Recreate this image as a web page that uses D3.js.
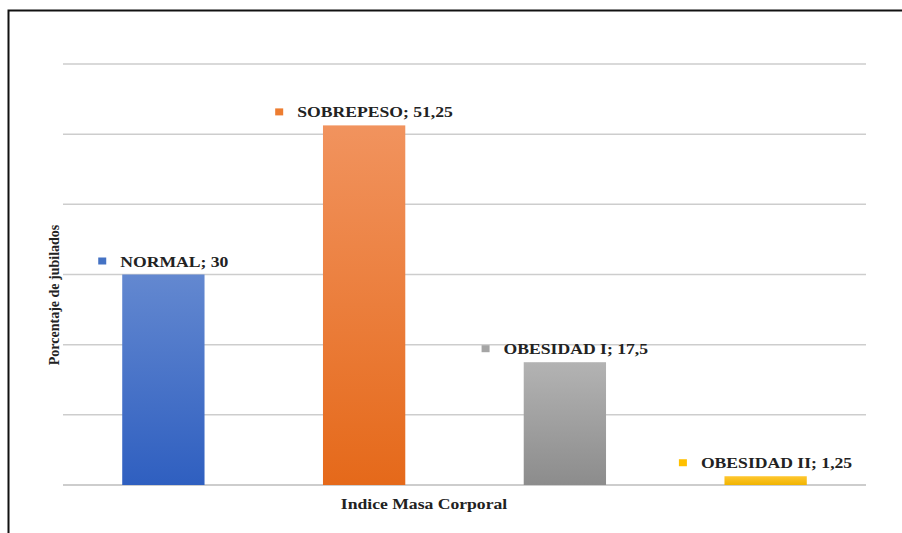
<!DOCTYPE html>
<html><head><meta charset="utf-8">
<script src="https://cdn.jsdelivr.net/npm/d3@7"></script>
<style>body{margin:0;background:#fff}svg{display:block}</style>
</head><body>
<script>
const categories = ["NORMAL", "SOBREPESO", "OBESIDAD I", "OBESIDAD II"];
const values = [30, 51.25, 17.5, 1.25];
const valueLabels = ["30", "51,25", "17,5", "1,25"];
const yTicks = [0, 10, 20, 30, 40, 50, 60];
const colorsTop = ["#6388d0", "#f1935e", "#b3b3b3", "#ffc730"];
const colorsBottom = ["#2f5fc0", "#e5691a", "#8c8c8c", "#f0b400"];
const markerColors = ["#4472c4", "#ed7d31", "#a5a5a5", "#ffc000"];

const W = 902, H = 533;
const SX = 1.26;
const svg = d3.select("body").append("svg").attr("width", W).attr("height", H);
const font = "'Liberation Serif','Times New Roman',serif";

// frame
svg.append("rect").attr("x", 8.5).attr("y", 10.5).attr("width", W).attr("height", H)
  .attr("fill", "none").attr("stroke", "#111").attr("stroke-width", 2);

const x = d3.scaleBand().domain(categories).range([63, 866]).paddingInner(0.59).paddingOuter(0.295);
const y = d3.scaleLinear().domain([0, 60]).range([485, 64]);

const defs = svg.append("defs");
categories.forEach((c, i) => {
  const g = defs.append("linearGradient").attr("id", "g" + i).attr("x1", 0).attr("y1", 0).attr("x2", 0).attr("y2", 1);
  g.append("stop").attr("offset", "0%").attr("stop-color", colorsTop[i]);
  g.append("stop").attr("offset", "100%").attr("stop-color", colorsBottom[i]);
});

// gridlines
svg.append("g").selectAll("line").data(yTicks).join("line")
  .attr("x1", 63).attr("x2", 866)
  .attr("y1", d => y(d)).attr("y2", d => y(d))
  .attr("stroke", d => d === 0 ? "#bdbdbd" : "#cdcdcd").attr("stroke-width", 1.5);

// bars
svg.append("g").selectAll("rect").data(values).join("rect")
  .attr("x", (d, i) => x(categories[i]))
  .attr("width", x.bandwidth())
  .attr("y", d => y(d))
  .attr("height", d => y(0) - y(d))
  .attr("fill", (d, i) => `url(#g${i})`);

// labels
const lg = svg.append("g").selectAll("g").data(values).join("g");
lg.each(function (d, i) {
  const g = d3.select(this);
  const t = g.append("text").attr("font-family", font).attr("font-weight", "bold")
    .attr("font-size", 14).attr("fill", "#222")
    .text(categories[i] + "; " + valueLabels[i]);
  const tw = t.node().getComputedTextLength() * SX;
  const total = 8 + 14 + tw;
  const cx = x(categories[i]) + x.bandwidth() / 2;
  const left = cx - total / 2;
  const base = y(d) - 8;
  g.append("rect").attr("x", left).attr("y", base - 9).attr("width", 8).attr("height", 7)
    .attr("fill", markerColors[i]);
  t.attr("transform", `translate(${left + 22},${base}) scale(${SX},1)`);
});

// axis titles
svg.append("text").attr("transform", `translate(424,509) scale(${SX},1)`).attr("text-anchor", "middle")
  .attr("font-family", font).attr("font-weight", "bold").attr("font-size", 14).attr("fill", "#222")
  .text("Indice Masa Corporal");
svg.append("text").attr("transform", "translate(59,295) rotate(-90)").attr("text-anchor", "middle")
  .attr("font-family", font).attr("font-weight", "bold").attr("font-size", 14).attr("fill", "#222")
  .text("Porcentaje de jubilados");
</script>
</body></html>
